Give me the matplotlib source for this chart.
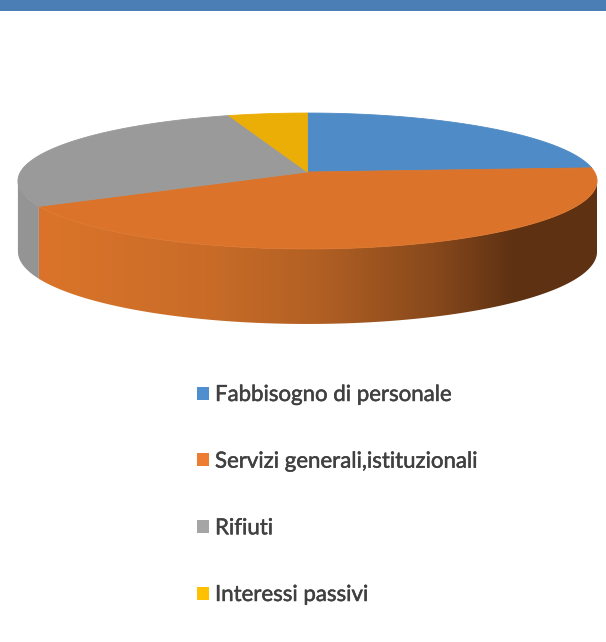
import numpy as np
import matplotlib
matplotlib.use("Agg")
import matplotlib.pyplot as plt
import matplotlib.patheffects as pe
from matplotlib.colors import LinearSegmentedColormap
from matplotlib.patches import Patch, Polygon, Rectangle

labels = ["Fabbisogno di personale", "Servizi generali,istituzionali", "Rifiuti", "Interessi passivi"]
values = [24, 43, 28, 5]
colors = ["#4F8BC6", "#DB742A", "#9A9A9A", "#EBAE07"]
wall_colors = ["#3A6690", "#DB742A", "#949494", "#AD8005"]

plt.rcParams["font.family"] = ["Lato", "DejaVu Sans"]

fig = plt.figure(figsize=(6.06, 6.42), dpi=100)
ax = fig.add_axes([0, 0, 1, 1])

# perspective of the pie disc, in pixels of the picture
cx, apex, k, c, d = 307.5, 172.0, -44.0, 0.1324, 287.0

def disc(theta):
    u, v = np.sin(theta), np.cos(theta)
    return cx + d * u / (1 + c * v), (apex + k * v) / (1 + c * v)

def rim(theta):
    x, y = disc(theta)
    return x, y + 70 - 5 * np.cos(theta)

edges = np.radians(np.cumsum([0] + values) * 3.6)
wall_cmap = LinearSegmentedColormap.from_list(
    "wall",
    [(0.0, "#DB742A"), (0.3, "#C96C28"), (0.5, "#B26024"), (0.7, "#8A4A1C"), (0.85, "#5F3213"), (1.0, "#5E3112")],
)

# side wall, only what can be seen from the front
for i, col in enumerate(wall_colors):
    a, b = max(edges[i], np.pi / 2 + 0.13), min(edges[i + 1], 3 * np.pi / 2 - 0.13)
    if a >= b:
        continue
    t = np.linspace(a, b, 200)
    x1, y1 = disc(t)
    x2, y2 = rim(t[::-1])
    pts = np.column_stack([np.r_[x1, x2], np.r_[y1, y2]])
    if labels[i].startswith("Servizi"):
        im = ax.imshow(
            np.linspace(0, 1, 256).reshape(1, -1), cmap=wall_cmap, aspect="auto",
            extent=(38, 597, 340, 160), zorder=1,
        )
        im.set_clip_path(Polygon(pts, transform=ax.transData))
    else:
        ax.add_patch(Polygon(pts, fc=col, ec="none", zorder=1))

# the cut face of the orange slice is seen from the left, grey wall behind it
t = np.linspace(np.pi * 1.5 - 0.13, np.pi * 1.5 + 0.13, 40)
t = t[t > edges[1]]
x1, y1 = disc(t)
x2, y2 = rim(t[::-1])
ax.add_patch(Polygon(np.column_stack([np.r_[x1, x2], np.r_[y1, y2]]), fc=wall_colors[2], ec="none", zorder=1))

# top of the pie, thin edge hides the seam with the wall
for i, col in enumerate(colors):
    t = np.linspace(edges[i], edges[i + 1], 200)
    x, y = disc(t)
    ax.fill(np.r_[cx, x], np.r_[apex, y], color=col, lw=0.6, zorder=2)

ax.add_patch(Rectangle((0, 0), 606, 10.5, fc="#4A7EB4", ec="none", zorder=3))

handles = [Patch(fc=col, ec="none") for col in ["#4F8FCF", "#ED7D31", "#A5A5A5", "#FFC000"]]
leg = ax.legend(
    handles, labels, loc="upper left", bbox_to_anchor=(197, 385), bbox_transform=ax.transData,
    frameon=False, fontsize=16, labelcolor="#404040", handlelength=0.54, handleheight=0.54,
    handletextpad=0.27, labelspacing=2.1, borderpad=0, borderaxespad=0,
)
# reference text is soft and looks heavier than regular
for txt in leg.get_texts():
    txt.set_path_effects([pe.withStroke(linewidth=0.35, foreground="#404040")])

ax.set_xlim(0, 606)
ax.set_ylim(642, 0)
ax.axis("off")
fig.savefig("out.png", dpi=100)
